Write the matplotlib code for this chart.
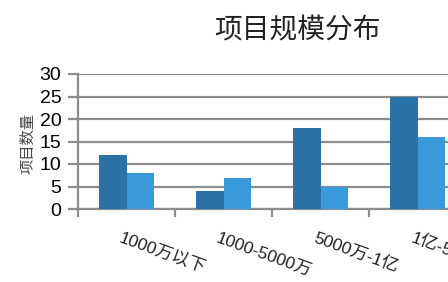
import numpy as np
import matplotlib.pyplot as plt

plt.rcParams['font.family'] = ['Liberation Sans', 'Noto Sans CJK SC', 'DejaVu Sans']

categories = ["1000万以下", "1000-5000万", "5000万-1亿", "1亿-5亿"]
series_a = [12, 4, 18, 25]
series_b = [8, 7, 5, 16]

fig = plt.figure(figsize=(4.48, 2.82), dpi=100)
# axes run past the right edge, like the cropped original
ax = fig.add_axes([78 / 448, 73 / 282, 388 / 448, 135 / 282])

x = np.arange(len(categories))
w = 0.285
ax.bar(x - w / 2, series_a, width=w, color="#2b73a7", zorder=3)
ax.bar(x + w / 2, series_b, width=w, color="#3a99d8", zorder=3)

ax.set_xlim(-0.5, len(categories) - 0.5)
ax.set_ylim(0, 30)
ax.set_yticks(range(0, 31, 5))
ax.yaxis.grid(True, color="#8c8c8c", linewidth=1.6, zorder=0)
ax.set_axisbelow(True)

for s in ["top", "right"]:
    ax.spines[s].set_visible(False)
for s in ["left", "bottom"]:
    ax.spines[s].set_color("#8c8c8c")
    ax.spines[s].set_linewidth(1.6)

ax.set_xticks(np.arange(len(categories)) - 0.5)
ax.set_xticklabels([])
ax.tick_params(axis="x", which="major", length=6, width=1.6, color="#8c8c8c")
ax.tick_params(axis="y", length=7, width=1.6, color="#8c8c8c", labelsize=14, pad=5)

for i, lab in enumerate(categories):
    ax.annotate(lab, xy=(i, 0), xycoords=("data", "axes fraction"),
                xytext=(-8, -33), textcoords="offset pixels",
                rotation=-20, rotation_mode="anchor", ha="left", va="baseline",
                fontsize=12.5, color="#222222", annotation_clip=False)

fig.text(28 / 448, 1 - 143 / 282, "项目数量", rotation=90, ha="center", va="center",
         fontsize=11, color="#444444")
fig.text(297 / 448, 1 - 31 / 282, "项目规模分布", ha="center", va="center",
         fontsize=20, color="#222222")

fig.savefig("out.png", dpi=100)
